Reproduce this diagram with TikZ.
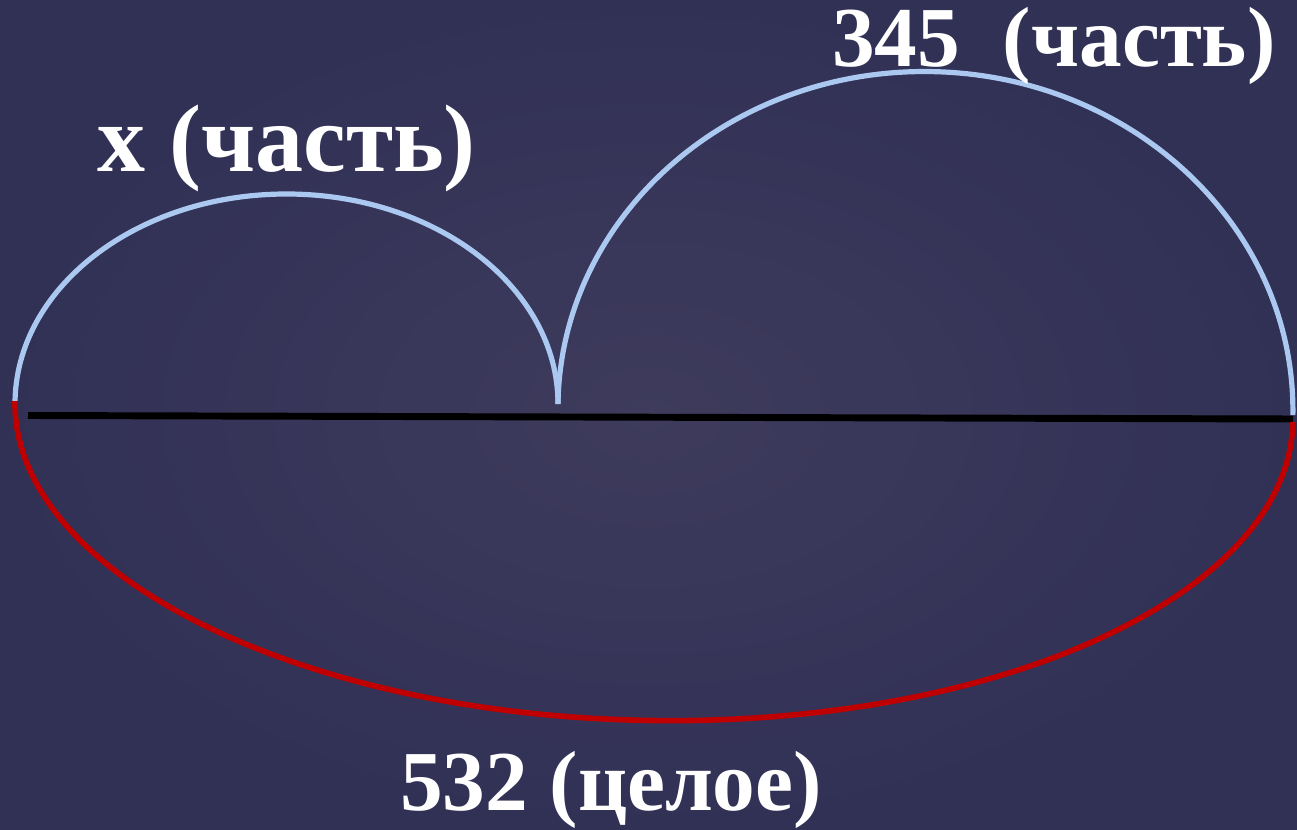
\documentclass[tikz,border=0pt]{standalone}
\usepackage{fontspec}
\setmainfont{Liberation Serif}
\definecolor{bgin}{RGB}{62,59,92}
\definecolor{bgout}{RGB}{49,49,86}
\definecolor{partblue}{RGB}{170,200,240}
\definecolor{wholered}{RGB}{192,0,0}
\tikzset{
  partarc/.style={draw=partblue, line width=3.9pt},
  wholearc/.style={draw=wholered, line width=4.2pt},
  segline/.style={draw=black, line width=5.2pt},
  lbl/.style={text=white, font=\fontsize{64}{70}\selectfont\bfseries, inner sep=0pt, anchor=base west}
}
\begin{document}
\begin{tikzpicture}[x=0.75pt,y=0.75pt]
\useasboundingbox (0,0) rectangle (1297,829);
\shade[inner color=bgin, outer color=bgout] (0,0) rectangle (1297,829);
% end points
\coordinate (L) at (15,425);
\coordinate (M) at (558,425);
\coordinate (RL) at (15,428);
\coordinate (S1) at (28,413.5);
\coordinate (S2) at (1293,410);
% segment
\draw[segline] (S1) -- (S2);
% part arcs
\draw[partarc] (L) arc[start angle=180, end angle=0, x radius=271.5, y radius=210];
\draw[partarc, rotate around={-0.86:(M)}] (M) arc[start angle=180, end angle=0, x radius=367.5, y radius=338];
% whole arc
\draw[wholearc, rotate around={-0.94:(RL)}] (RL) arc[start angle=180, end angle=360, x radius=639, y radius=309];
% labels
\node[lbl, font=\fontsize{72}{76}\selectfont\bfseries] (lx) at (97,657) {x (часть)};
\node[lbl] (l345) at (832,762) {345~~(часть)};
\node[lbl] (l532) at (400,19) {532 (целое)};
\end{tikzpicture}
\end{document}
